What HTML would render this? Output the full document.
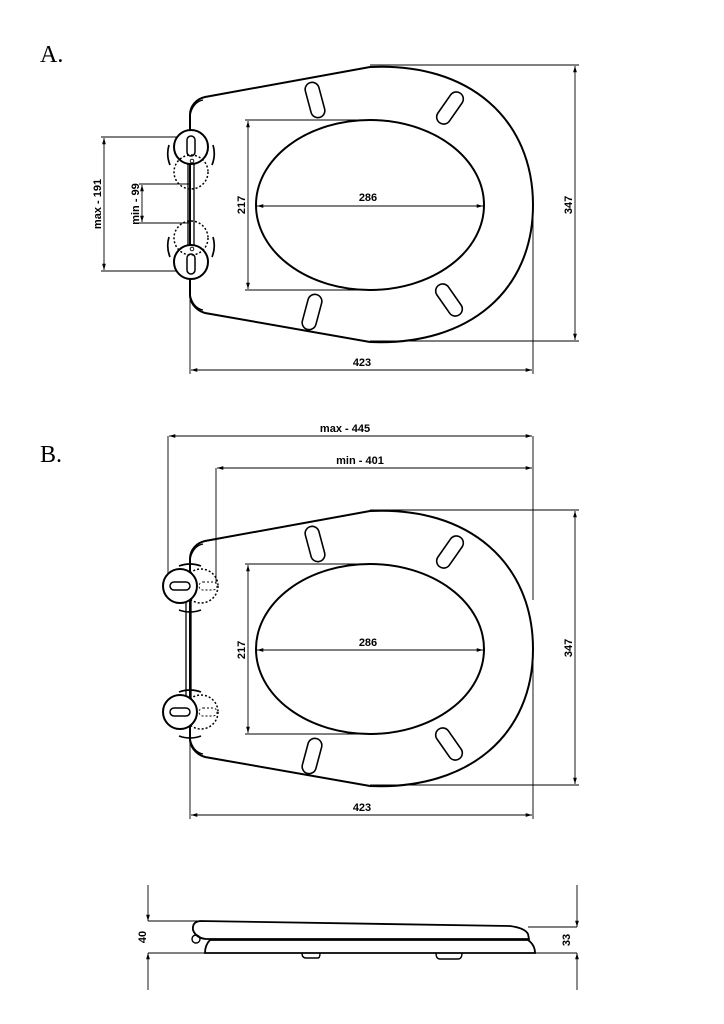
<!DOCTYPE html>
<html><head><style>body{margin:0;background:#fff}svg{display:block}</style></head><body>
<svg width="724" height="1024" viewBox="0 0 724 1024" xmlns="http://www.w3.org/2000/svg" font-family="Liberation Sans, sans-serif" font-weight="bold" font-size="11">
<defs>
<marker id="a" viewBox="0 0 10 10" refX="10" refY="5" markerWidth="7" markerHeight="7" orient="auto-start-reverse"><path d="M0,2 L10,5 L0,8 Z" fill="#000"/></marker>
<g id="seat">
<path d="M205,97 L370,67 C470,62 533,120 533,205 C533,290 470,346 370,342 L205,313 C195,310 190,302 190,295 L190,115 C190,105 197,99 205,97 Z" fill="none" stroke="#000" stroke-width="2"/>
<ellipse cx="370" cy="205" rx="114" ry="85" fill="none" stroke="#000" stroke-width="2"/>
<rect x="308" y="82" width="14" height="36" rx="7" transform="rotate(-15 315 100)" fill="none" stroke="#000" stroke-width="1.6"/>
<rect x="443" y="90" width="14" height="36" rx="7" transform="rotate(35 450 108)" fill="none" stroke="#000" stroke-width="1.6"/>
<rect x="305" y="294" width="14" height="36" rx="7" transform="rotate(15 312 312)" fill="none" stroke="#000" stroke-width="1.6"/>
<rect x="442" y="282" width="14" height="36" rx="7" transform="rotate(-35 449 300)" fill="none" stroke="#000" stroke-width="1.6"/>
<path d="M190,115 Q193,102 203,100 M190,295 Q193,308 203,310" fill="none" stroke="#000" stroke-width="1.4"/>
</g>
</defs>
<g stroke="#000" stroke-width="0.9" fill="none">
<use href="#seat" />
<line x1="370" y1="65" x2="579" y2="65"/><line x1="370" y1="341" x2="579" y2="341"/>
<line x1="575" y1="66" x2="575" y2="340" marker-start="url(#a)" marker-end="url(#a)"/>
<line x1="190" y1="300" x2="190" y2="374"/><line x1="533" y1="205" x2="533" y2="374"/>
<line x1="191" y1="370" x2="532" y2="370" marker-start="url(#a)" marker-end="url(#a)"/>
<line x1="245" y1="120" x2="370" y2="120"/><line x1="245" y1="290" x2="370" y2="290"/>
<line x1="248" y1="121" x2="248" y2="289" marker-start="url(#a)" marker-end="url(#a)"/>
<line x1="257" y1="206" x2="483" y2="206" marker-start="url(#a)" marker-end="url(#a)"/>
<line x1="101" y1="137" x2="190" y2="137"/><line x1="101" y1="271" x2="190" y2="271"/>
<line x1="104" y1="138" x2="104" y2="270" marker-start="url(#a)" marker-end="url(#a)"/>
<line x1="139" y1="184" x2="190" y2="184"/><line x1="139" y1="223" x2="190" y2="223"/>
<line x1="142" y1="185" x2="142" y2="222" marker-start="url(#a)" marker-end="url(#a)"/>
<line x1="188" y1="147" x2="188" y2="262" stroke-width="1.3"/><line x1="194" y1="147" x2="194" y2="262" stroke-width="1.3"/>
<circle cx="191" cy="147" r="17" fill="#fff" stroke-width="2"/><circle cx="191" cy="262" r="17" fill="#fff" stroke-width="2"/>
<rect x="187" y="136" width="8" height="20" rx="4" stroke-width="1.5"/><rect x="187" y="254" width="8" height="20" rx="4" stroke-width="1.5"/>
<circle cx="192" cy="161" r="1.8"/><circle cx="192" cy="249" r="1.8"/>
<circle cx="191" cy="172" r="17" stroke-dasharray="2,2" stroke-width="1.5"/><circle cx="191" cy="238" r="17" stroke-dasharray="2,2" stroke-width="1.5"/>
<path d="M169,145 Q166,155 170,165 M213,145 Q216,155 212,165 M169,237 Q166,247 170,257 M213,237 Q216,247 212,257" stroke-width="1.7"/>
<g transform="translate(0,444)"><use href="#seat"/></g>
<line x1="370" y1="510" x2="579" y2="510"/><line x1="370" y1="785" x2="579" y2="785"/>
<line x1="575" y1="511" x2="575" y2="784" marker-start="url(#a)" marker-end="url(#a)"/>
<line x1="190" y1="740" x2="190" y2="819"/><line x1="533" y1="650" x2="533" y2="819"/>
<line x1="191" y1="815" x2="532" y2="815" marker-start="url(#a)" marker-end="url(#a)"/>
<line x1="245" y1="564" x2="370" y2="564"/><line x1="245" y1="734" x2="370" y2="734"/>
<line x1="248" y1="565" x2="248" y2="733" marker-start="url(#a)" marker-end="url(#a)"/>
<line x1="257" y1="650" x2="483" y2="650" marker-start="url(#a)" marker-end="url(#a)"/>
<line x1="168" y1="436" x2="168" y2="580"/><line x1="533" y1="436" x2="533" y2="600"/>
<line x1="169" y1="436" x2="532" y2="436" marker-start="url(#a)" marker-end="url(#a)"/>
<line x1="216" y1="468" x2="216" y2="583"/>
<line x1="217" y1="468" x2="532" y2="468" marker-start="url(#a)" marker-end="url(#a)"/>
<line x1="186" y1="595" x2="186" y2="700" stroke-width="1.3"/><line x1="191" y1="595" x2="191" y2="700" stroke-width="1.3"/>
<circle cx="201" cy="586" r="17" stroke-dasharray="2,2" stroke-width="1.5"/><circle cx="201" cy="712" r="17" stroke-dasharray="2,2" stroke-width="1.5"/>
<rect x="199" y="582" width="18" height="8" rx="4" stroke-dasharray="2,2"/><rect x="199" y="708" width="18" height="8" rx="4" stroke-dasharray="2,2"/>
<circle cx="180" cy="586" r="17" fill="#fff" stroke-width="2"/><circle cx="180" cy="712" r="17" fill="#fff" stroke-width="2"/>
<rect x="170" y="582" width="20" height="8" rx="4" stroke-width="1.5"/><rect x="170" y="708" width="20" height="8" rx="4" stroke-width="1.5"/>
<path d="M179,566 Q190,562 201,566 M179,610 Q190,614 201,610 M179,692 Q190,688 201,692 M179,736 Q190,740 201,736" stroke-width="1.7"/>
<path d="M200,921 L510,926 Q525,928 528,934 L529,939 L206,939 Q196,938 193,930 Q192,922 200,921 Z" stroke-width="1.8"/>
<path d="M210,940 L528,940 Q535,945 535,953 L205,953 Q205,945 210,940 Z" stroke-width="1.8"/>
<circle cx="196" cy="939" r="4" stroke-width="1.4"/>
<path d="M302,953 Q302,958 306,958 L318,958 Q320,958 320,953 M436,953 Q436,959 440,959 L458,959 Q462,959 462,953" stroke-width="1.4"/>
<line x1="148" y1="921" x2="200" y2="921"/><line x1="148" y1="953" x2="577" y2="953"/><line x1="528" y1="927" x2="577" y2="927"/>
<line x1="148" y1="885" x2="148" y2="921" marker-end="url(#a)"/><line x1="148" y1="990" x2="148" y2="953" marker-end="url(#a)"/>
<line x1="577" y1="885" x2="577" y2="927" marker-end="url(#a)"/><line x1="577" y1="990" x2="577" y2="953" marker-end="url(#a)"/>
</g>
<g fill="#000">
<text x="40" y="62" font-family="Liberation Serif, serif" font-weight="normal" font-size="24">A.</text>
<text x="40" y="462" font-family="Liberation Serif, serif" font-weight="normal" font-size="24">B.</text>
<text x="368" y="201" text-anchor="middle">286</text>
<text x="368" y="646" text-anchor="middle">286</text>
<text x="362" y="366" text-anchor="middle">423</text>
<text x="362" y="811" text-anchor="middle">423</text>
<text x="345" y="432" text-anchor="middle">max - 445</text>
<text x="360" y="464" text-anchor="middle">min - 401</text>
<text transform="translate(245,205) rotate(-90)" text-anchor="middle">217</text>
<text transform="translate(245,650) rotate(-90)" text-anchor="middle">217</text>
<text transform="translate(572,205) rotate(-90)" text-anchor="middle">347</text>
<text transform="translate(572,648) rotate(-90)" text-anchor="middle">347</text>
<text transform="translate(101,204) rotate(-90)" text-anchor="middle">max - 191</text>
<text transform="translate(139,204) rotate(-90)" text-anchor="middle">min - 99</text>
<text transform="translate(146,937) rotate(-90)" text-anchor="middle">40</text>
<text transform="translate(570,940) rotate(-90)" text-anchor="middle">33</text>
</g>
</svg>
</body></html>
